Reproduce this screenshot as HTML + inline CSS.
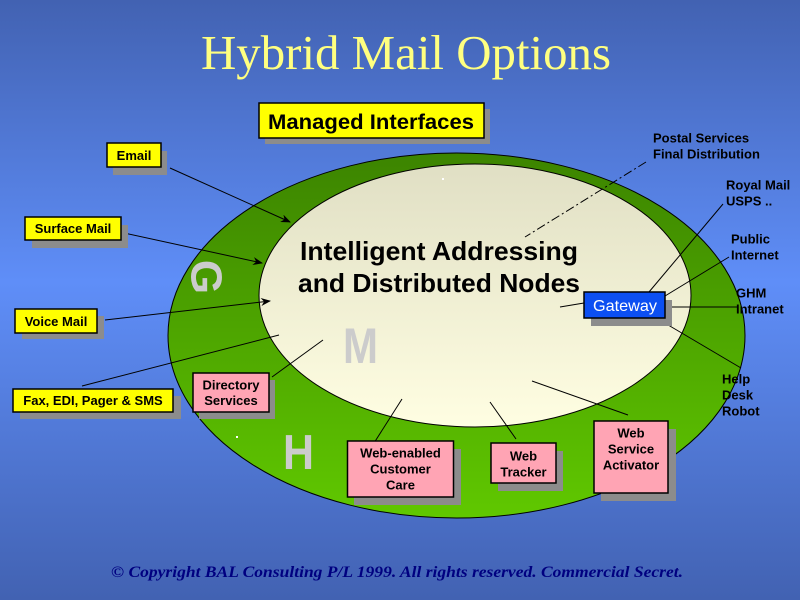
<!DOCTYPE html>
<html>
<head>
<meta charset="utf-8">
<style>
html,body{margin:0;padding:0;width:800px;height:600px;overflow:hidden;}
svg{display:block;}
.b{font-family:"Liberation Sans",Arial,sans-serif;font-weight:bold;font-size:13px;fill:#000;}
</style>
</head>
<body>
<svg width="800" height="600" viewBox="0 0 800 600" xmlns="http://www.w3.org/2000/svg">
<defs>
<linearGradient id="bg" x1="0" y1="0" x2="0" y2="1">
<stop offset="0" stop-color="#4262b2"/>
<stop offset="0.47" stop-color="#5f8ef8"/>
<stop offset="1" stop-color="#4262b2"/>
</linearGradient>
<linearGradient id="gr" x1="0" y1="0" x2="0" y2="1">
<stop offset="0" stop-color="#3c8400"/>
<stop offset="1" stop-color="#60c800"/>
</linearGradient>
<linearGradient id="in" x1="0" y1="0" x2="0" y2="1">
<stop offset="0" stop-color="#e0dfc4"/>
<stop offset="1" stop-color="#fffee2"/>
</linearGradient>
<marker id="ar" markerWidth="10" markerHeight="8" refX="9" refY="4" orient="auto" markerUnits="userSpaceOnUse">
<path d="M0,0 L10,4 L0,8 L3,4 Z" fill="#000"/>
</marker>
</defs>
<rect x="0" y="0" width="800" height="600" fill="url(#bg)"/>

<!-- Title -->
<text x="406" y="69" text-anchor="middle" font-family="'Liberation Serif','Times New Roman',serif" font-size="49" fill="#ffff80" textLength="410" lengthAdjust="spacingAndGlyphs">Hybrid Mail Options</text>

<!-- Ellipses -->
<ellipse cx="456.5" cy="335.5" rx="288.5" ry="182.5" fill="url(#gr)" stroke="#000" stroke-width="1"/>
<ellipse cx="475" cy="295.5" rx="216" ry="131.5" fill="url(#in)" stroke="#000" stroke-width="1"/>
<rect x="442" y="178" width="2" height="2" fill="#ffffff"/>
<rect x="236" y="436" width="2" height="2" fill="#ffffff"/>

<!-- Big gray letters -->
<text transform="translate(207,277) rotate(90)" x="0" y="15.5" text-anchor="middle" font-family="'Liberation Sans',Arial,sans-serif" font-weight="bold" font-size="44" fill="#cccccc">G</text>
<text x="343" y="363" font-family="'Liberation Sans',Arial,sans-serif" font-weight="bold" font-size="50" fill="#cccccc" textLength="35" lengthAdjust="spacingAndGlyphs">M</text>
<text x="283" y="469" font-family="'Liberation Sans',Arial,sans-serif" font-weight="bold" font-size="49" fill="#cccccc" textLength="31" lengthAdjust="spacingAndGlyphs">H</text>

<!-- Center text -->
<text x="300" y="260" font-family="'Liberation Sans',Arial,sans-serif" font-weight="bold" font-size="26" fill="#000" textLength="278" lengthAdjust="spacingAndGlyphs">Intelligent Addressing</text>
<text x="298" y="292" font-family="'Liberation Sans',Arial,sans-serif" font-weight="bold" font-size="26" fill="#000" textLength="282" lengthAdjust="spacingAndGlyphs">and Distributed Nodes</text>

<!-- Connectors -->
<g stroke="#000" stroke-width="1" fill="none">
<line x1="170" y1="168" x2="290" y2="222" marker-end="url(#ar)"/>
<line x1="124" y1="233" x2="262" y2="263" marker-end="url(#ar)"/>
<line x1="105" y1="320" x2="270" y2="301" marker-end="url(#ar)"/>
<line x1="82" y1="386" x2="279" y2="335"/>
<line x1="272" y1="377" x2="323" y2="340"/>
<line x1="374" y1="443" x2="402" y2="399"/>
<line x1="516" y1="439" x2="490" y2="402"/>
<line x1="628" y1="415" x2="532" y2="381"/>
<line x1="560" y1="307" x2="584" y2="303"/>
<line x1="649" y1="292" x2="723" y2="204"/>
<line x1="665" y1="296" x2="729" y2="257"/>
<line x1="666" y1="307" x2="737" y2="307"/>
<line x1="658" y1="319" x2="741" y2="368"/>
<line x1="646" y1="162" x2="525" y2="237" stroke-dasharray="9,3,2,3"/>
</g>

<!-- Shadows -->
<g fill="#8c8c8c">
<rect x="265" y="109" width="225" height="35"/>
<rect x="113" y="151" width="54" height="24"/>
<rect x="32" y="225" width="96" height="23"/>
<rect x="22" y="316" width="82" height="23"/>
<rect x="20" y="396" width="161" height="23"/>
<rect x="199" y="380" width="76" height="39"/>
<rect x="354" y="449" width="107" height="56"/>
<rect x="498" y="451" width="65" height="40"/>
<rect x="601" y="429" width="75" height="72"/>
<rect x="591" y="300" width="81" height="26"/>
</g>

<!-- Yellow boxes -->
<g fill="#ffff00" stroke="#000" stroke-width="1.5">
<rect x="259" y="103" width="225" height="35"/>
<rect x="107" y="143" width="54" height="24"/>
<rect x="25" y="217" width="96" height="23"/>
<rect x="15" y="309" width="82" height="24"/>
<rect x="13" y="389" width="160" height="23"/>
</g>
<!-- Pink boxes -->
<g fill="#ffa4b4" stroke="#000" stroke-width="1.5">
<rect x="193" y="373" width="76" height="39"/>
<rect x="347.5" y="441" width="106" height="56"/>
<rect x="491" y="443" width="65" height="40"/>
<rect x="594" y="421" width="74" height="72"/>
</g>
<!-- Gateway -->
<rect x="584" y="292" width="81" height="26" fill="#0c4ff2" stroke="#000" stroke-width="1.5"/>
<text x="625" y="311" text-anchor="middle" font-family="'Liberation Sans',Arial,sans-serif" font-size="16" fill="#ffffff" textLength="64" lengthAdjust="spacingAndGlyphs">Gateway</text>

<!-- Box texts -->
<text x="268" y="129" font-family="'Liberation Sans',Arial,sans-serif" font-weight="bold" font-size="21.5" fill="#000" textLength="206" lengthAdjust="spacingAndGlyphs">Managed Interfaces</text>
<text class="b" x="134" y="160" text-anchor="middle">Email</text>
<text class="b" x="73" y="233" text-anchor="middle">Surface Mail</text>
<text class="b" x="56" y="326" text-anchor="middle">Voice Mail</text>
<text class="b" x="93" y="405" text-anchor="middle">Fax, EDI, Pager &amp; SMS</text>

<text class="b" x="231" y="389.5" text-anchor="middle">Directory</text>
<text class="b" x="231" y="405" text-anchor="middle">Services</text>
<text class="b" x="400.5" y="457.5" text-anchor="middle">Web-enabled</text>
<text class="b" x="400.5" y="473.5" text-anchor="middle">Customer</text>
<text class="b" x="400.5" y="489.5" text-anchor="middle">Care</text>
<text class="b" x="523.5" y="460.5" text-anchor="middle">Web</text>
<text class="b" x="523.5" y="476.5" text-anchor="middle">Tracker</text>
<text class="b" x="631" y="437.5" text-anchor="middle">Web</text>
<text class="b" x="631" y="453.5" text-anchor="middle">Service</text>
<text class="b" x="631" y="469.5" text-anchor="middle">Activator</text>

<!-- Right labels -->
<text class="b" x="653" y="142.5">Postal Services</text>
<text class="b" x="653" y="158.5">Final Distribution</text>
<text class="b" x="726" y="189.5">Royal Mail</text>
<text class="b" x="726" y="205.5">USPS ..</text>
<text class="b" x="731" y="243.5">Public</text>
<text class="b" x="731" y="259.5">Internet</text>
<text class="b" x="736" y="297.5">GHM</text>
<text class="b" x="736" y="313.5">Intranet</text>
<text class="b" x="722" y="383.5">Help</text>
<text class="b" x="722" y="399.5">Desk</text>
<text class="b" x="722" y="415.5">Robot</text>

<!-- Footer -->
<text x="111" y="577" font-family="'Liberation Serif','Times New Roman',serif" font-weight="bold" font-style="italic" font-size="16" fill="#000080" textLength="572" lengthAdjust="spacingAndGlyphs">© Copyright BAL Consulting P/L 1999. All rights reserved. Commercial Secret.</text>
</svg>
</body>
</html>
